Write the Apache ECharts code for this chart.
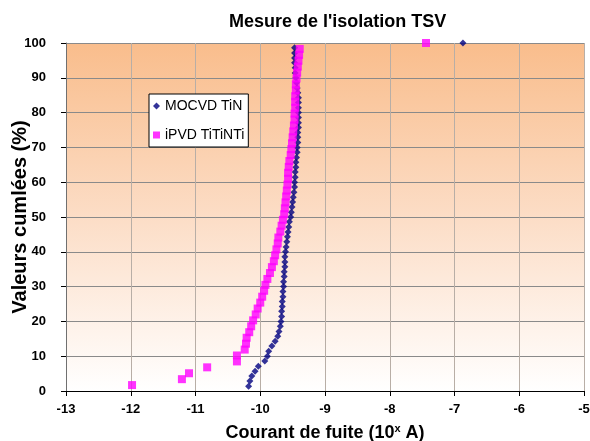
<!DOCTYPE html>
<html>
<head>
<meta charset="utf-8">
<script src="https://cdn.jsdelivr.net/npm/echarts@6/dist/echarts.min.js"></script>
<style>html,body{margin:0;padding:0;background:#fff}#c{width:590px;height:441px}</style>
</head>
<body>
<div id="c"></div>
<script>
// MOCVD TiN: [log10 leakage current, cumulative %]
const mocvdX = [-10.18,-10.16,-10.13,-10.08,-10.03,-9.93,-9.89,-9.87,-9.82,-9.77,
  -9.73,-9.71,-9.69,-9.68,-9.67,-9.67,-9.66,-9.66,-9.65,-9.65,
  -9.64,-9.64,-9.63,-9.63,-9.62,-9.62,-9.62,-9.61,-9.60,-9.59,
  -9.58,-9.57,-9.56,-9.55,-9.53,-9.52,-9.51,-9.50,-9.49,-9.48,
  -9.47,-9.47,-9.46,-9.46,-9.45,-9.45,-9.44,-9.43,-9.43,-9.42,
  -9.42,-9.42,-9.41,-9.41,-9.41,-9.41,-9.41,-9.41,-9.41,-9.42,
  -9.43,-9.44,-9.45,-9.46,-9.46,-9.47,-9.47,-9.47,-9.47,-6.87];
const mocvdY = [1.4,2.9,4.3,5.7,7.1,8.6,10.0,11.4,12.9,14.3,
  15.7,17.1,18.6,20.0,21.4,22.9,24.3,25.7,27.1,28.6,
  30.0,31.4,32.9,34.3,35.7,37.1,38.6,40.0,41.4,42.9,
  44.3,45.7,47.1,48.6,50.0,51.4,52.9,54.3,55.7,57.1,
  58.6,60.0,61.4,62.9,64.3,65.7,67.1,68.6,70.0,71.4,
  72.9,74.3,75.7,77.1,78.6,80.0,81.4,82.9,84.3,85.7,
  87.1,88.6,90.0,91.4,92.9,94.3,95.7,97.1,98.6,100];
// iPVD TiTiNTi
const ipvdX = [-11.98,-11.21,-11.10,-10.82,-10.36,-10.36,-10.24,-10.22,-10.21,-10.17,
  -10.14,-10.11,-10.07,-10.04,-10.00,-9.97,-9.94,-9.92,-9.89,-9.85,
  -9.82,-9.79,-9.77,-9.75,-9.73,-9.72,-9.69,-9.67,-9.65,-9.63,
  -9.62,-9.61,-9.60,-9.59,-9.58,-9.57,-9.57,-9.56,-9.55,-9.53,
  -9.52,-9.51,-9.50,-9.49,-9.48,-9.47,-9.47,-9.46,-9.46,-9.46,
  -9.45,-9.45,-9.44,-9.43,-9.42,-9.41,-9.40,-9.39,-7.44];
const ipvdY = [1.7,3.4,5.1,6.8,8.5,10.2,11.9,13.6,15.3,16.9,
  18.6,20.3,22.0,23.7,25.4,27.1,28.8,30.5,32.2,33.9,
  35.6,37.3,39.0,40.7,42.4,44.1,45.8,47.5,49.2,50.8,
  52.5,54.2,55.9,57.6,59.3,61.0,62.7,64.4,66.1,67.8,
  69.5,71.2,72.9,74.6,76.3,78.0,79.7,81.4,83.1,84.7,
  86.4,88.1,89.8,91.5,93.2,94.9,96.6,98.3,100];
const seriesNames = ['MOCVD TiN', 'iPVD TiTiNTi'];
const titleText = "Mesure de l'isolation TSV";
const yName = 'Valeurs cumlées (%)';

const pairs = (xs, ys) => xs.map((x, i) => [x, ys[i]]);
const chart = echarts.init(document.getElementById('c'));
const F = 'Liberation Sans, Arial, sans-serif';
chart.setOption({
  animation: false,
  backgroundColor: '#fff',
  title: {
    text: titleText, left: 224, top: 8,
    textStyle: {fontFamily: F, fontSize: 18, fontWeight: 'bold', color: '#000'}
  },
  legend: {
    orient: 'vertical', left: 149, top: 94,
    backgroundColor: '#fff', borderColor: '#000', borderWidth: 1, borderRadius: 0,
    padding: [5, 4, 5, 4], itemGap: 15, itemWidth: 7, itemHeight: 7,
    textStyle: {fontFamily: F, fontSize: 14, color: '#000'},
    data: seriesNames
  },
  grid: {
    left: 66, right: 6, top: 43, bottom: 50, show: true, borderWidth: 0,
    containLabel: false, outerBoundsMode: 'none',
    backgroundColor: new echarts.graphic.LinearGradient(0, 0, 0, 1, [
      {offset: 0, color: '#F9BD8C'},
      {offset: 0.5, color: '#FCDDC6'},
      {offset: 1, color: '#FFFFFF'}
    ])
  },
  xAxis: {
    type: 'value', min: -13, max: -5, interval: 1,
    name: '{a|Courant de fuite (10}{s|x}{a| A)}',
    nameLocation: 'middle', nameGap: 32, nameMoveOverlap: false,
    nameTextStyle: {rich: {
      a: {fontFamily: F, fontSize: 18, fontWeight: 'bold', color: '#000'},
      s: {fontFamily: F, fontSize: 11, fontWeight: 'bold', color: '#000', verticalAlign: 'top', padding: [0, 0, 9, 0]}
    }},
    axisLine: {show: true, onZero: false, lineStyle: {color: '#000', width: 1}},
    axisTick: {show: true, length: 5, lineStyle: {color: '#000'}},
    axisLabel: {fontFamily: F, fontSize: 13, fontWeight: 'bold', color: '#000', margin: 12},
    splitLine: {show: true, lineStyle: {color: '#B8AEA6', width: 1}}
  },
  yAxis: {
    type: 'value', min: 0, max: 100, interval: 10,
    name: yName, nameLocation: 'middle', nameGap: 36, nameMoveOverlap: false,
    nameTextStyle: {fontFamily: F, fontSize: 20, fontWeight: 'bold', color: '#000'},
    axisLine: {show: true, onZero: false, lineStyle: {color: '#707070', width: 1}},
    axisTick: {show: true, length: 5, lineStyle: {color: '#000'}},
    axisLabel: {fontFamily: F, fontSize: 13, fontWeight: 'bold', color: '#000', margin: 20},
    splitLine: {show: true, lineStyle: {color: '#8A8A8A', width: 1}}
  },
  series: [
    {name: seriesNames[0], type: 'scatter', symbol: 'diamond', symbolSize: 7,
     itemStyle: {color: '#000080'}, data: pairs(mocvdX, mocvdY)},
    {name: seriesNames[1], type: 'scatter', symbol: 'rect', symbolSize: 8,
     itemStyle: {color: '#FF00FF'}, data: pairs(ipvdX, ipvdY)}
  ]
});
</script>
</body>
</html>
